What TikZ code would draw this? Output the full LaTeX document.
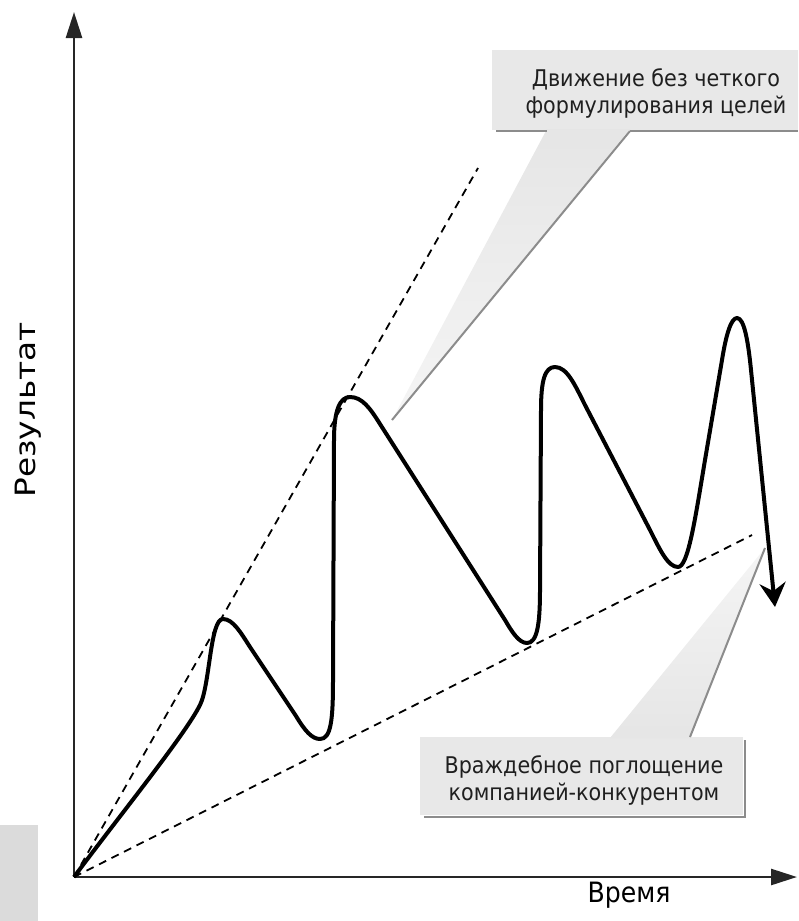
\documentclass[tikz,border=0pt]{standalone}
\usepackage{fontspec}
\setmainfont{DejaVu Sans Condensed}
\usetikzlibrary{arrows.meta}
\begin{document}
\begin{tikzpicture}[x=1pt,y=-1pt,
  axis/.style={line width=2.6pt, draw=black!85},
  guide/.style={line width=1.8pt, dash pattern=on 8pt off 6pt},
  curve/.style={line width=4pt, line join=round},
  callout/.style={fill=black!9, draw=none},
  shadowline/.style={draw=black!45, line width=2pt},
  lbl/.style={font=\fontsize{23}{27}\selectfont, align=center, text=black!88, inner sep=0pt},
  axlbl/.style={font=\fontsize{28}{30}\selectfont, inner sep=0pt}]
\useasboundingbox (0,0) rectangle (798,921);
% grey block bottom left
\fill[black!14] (0,825) rectangle (38,921);
% callout 1
\coordinate (c1tip) at (392,420);
\fill[callout] (492,50) rectangle (798,130);
\shade[top color=black!10, bottom color=black!4] (547,129) -- (630,129) -- (c1tip) -- cycle;
\draw[shadowline] (496,131) -- (547,131);
\draw[shadowline] (630,131) -- (798,131);
\draw[shadowline] (630,131) -- (c1tip);
\node[lbl] (t1) at (656,93) {Движение без четкого\\формулирования целей};
% callout 2
\coordinate (c2tip) at (765,548);
\fill[callout] (420,737) rectangle (743,815);
\shade[bottom color=black!10, top color=black!4] (610,738) -- (690,738) -- (c2tip) -- cycle;
\draw[shadowline] (745,740) -- (745,817) -- (424,817);
\draw[shadowline] (690,737) -- (c2tip);
\node[lbl] (t2) at (584,780) {Враждебное поглощение\\компанией-конкурентом};
% axes
\coordinate (O) at (74,877);
\coordinate (ytop) at (74,12);
\coordinate (xend) at (797,877);
\draw[axis,-{Triangle[length=26pt,width=16pt]}] (O) -- (ytop);
\draw[axis,-{Triangle[length=26pt,width=16pt]}] (O) -- (xend);
% guide lines
\coordinate (g1) at (478,168);
\coordinate (g2) at (752,535);
\draw[guide] (O) -- (g1);
\draw[guide] (O) -- (g2);
% curve
\coordinate (tip) at (775,607);
\draw[curve,-{Stealth[length=24pt,width=26pt,inset=8pt]}] (O)
  .. controls (120,815) and (185,735) .. (200,705)
  .. controls (210,685) and (210,619) .. (223,619)
  .. controls (233,619) and (241,633) .. (250,647) -- (296,716)
  .. controls (305,731) and (312,739) .. (320,739)
  .. controls (331,739) and (333,720) .. (333,680) -- (334,440)
  .. controls (334,410) and (340,397) .. (350,397)
  .. controls (362,397) and (370,408) .. (380,424) -- (505,620)
  .. controls (512,632) and (519,643) .. (527,643)
  .. controls (537,643) and (540,625) .. (540,590) -- (541,410)
  .. controls (541,380) and (545,367) .. (555,367)
  .. controls (567,367) and (575,385) .. (585,405) -- (650,530)
  .. controls (660,550) and (668,567) .. (678,567)
  .. controls (688,567) and (695,520) .. (705,460) -- (722,360)
  .. controls (726,335) and (731,318) .. (737,318)
  .. controls (744,318) and (748,340) .. (751,370) -- (tip);
% axis labels
\node[axlbl] (xl) at (629,895) {Время};
\node[axlbl,rotate=90] (yl) at (28,410) {\scalebox{1.3}[1]{Результат}};
\end{tikzpicture}
\end{document}
